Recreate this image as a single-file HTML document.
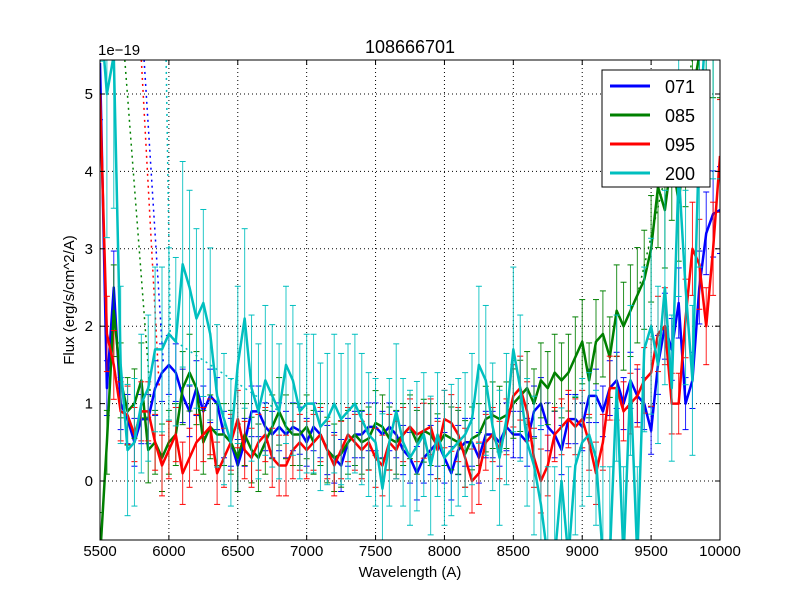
<!DOCTYPE html>
<html><head><meta charset="utf-8"><style>
html,body{margin:0;padding:0;background:#fff;width:800px;height:600px;overflow:hidden;}
svg{display:block;font-family:"Liberation Sans","DejaVu Sans",sans-serif;}
</style></head><body>
<svg id="chart" width="800" height="600">
<rect width="800" height="600" fill="#fff"/>
<text x="410" y="53" font-size="18" text-anchor="middle">108666701</text>
<text x="98" y="55" font-size="15">1e−19</text>
<text x="410" y="577" font-size="15" text-anchor="middle">Wavelength (A)</text>
<text transform="translate(74,300) rotate(-90)" font-size="15" text-anchor="middle">Flux (erg/s/cm^2/A)</text>
<defs><clipPath id="pc"><rect x="100" y="60" width="620" height="480"/></clipPath></defs>
<g id="grid"></g>
<g id="series" clip-path="url(#pc)"></g>
<g id="axes"></g>
<g id="legend">
<rect x="602" y="70" width="108" height="117" fill="#fff" stroke="#000" stroke-width="1"/>
</g>
</svg>
<script>
const waves=[];for(let w=5500;w<=10000;w+=50)waves.push(w);
const xTicks=[5500,6000,6500,7000,7500,8000,8500,9000,9500,10000];
const yTicks=[0,1,2,3,4,5];
const names=["071","085","095","200"];
const colors=["#0000ff","#008000","#ff0000","#00bfbf"];
const blue=[5.4,1.2,2.5,1.0,0.8,0.5,0.8,0.8,1.2,1.4,1.5,1.4,1.1,0.9,1.2,0.9,1.1,1.0,0.6,0.5,0.2,0.5,0.9,0.9,0.7,0.6,0.7,0.6,0.7,0.65,0.5,0.7,0.6,0.4,0.3,0.2,0.5,0.6,0.6,0.7,0.7,0.6,0.7,0.6,0.4,0.3,0.1,0.3,0.4,0.5,0.3,0.1,0.4,0.5,0.5,0.3,0.6,0.6,0.5,0.7,0.6,0.6,0.5,0.9,1.0,0.7,0.6,0.4,0.8,0.8,0.7,1.1,1.1,0.9,1.2,1.3,1.0,1.3,1.1,1.0,0.65,1.5,2.0,1.7,2.3,1.0,1.3,2.5,3.2,3.45,3.5];
const green=[-1,0.5,2.2,1.3,0.9,1.0,1.3,0.4,0.5,0.3,0.5,0.6,1.2,1.4,1.2,0.5,0.7,0.6,0.6,0.5,0.3,0.6,0.4,0.3,0.5,0.7,0.9,0.7,0.6,0.6,0.7,0.5,0.6,0.4,0.3,0.35,0.5,0.6,0.5,0.55,0.75,0.7,0.55,0.5,0.6,0.7,0.5,0.65,0.6,0.45,0.6,0.55,0.5,0.35,0.55,0.6,0.8,0.85,0.8,0.85,1.0,1.1,1.2,1.0,1.3,1.2,1.4,1.3,1.4,1.6,1.8,1.3,1.8,1.9,1.6,2.2,2.0,2.2,2.4,2.6,3.0,3.8,3.5,4.2,3.6,4.4,5.0,5.5,6,6,6];
const red=[5.0,1.9,1.5,0.9,0.85,0.6,0.9,0.9,0.5,0.2,0.4,0.6,0.1,0.3,0.5,0.6,0.7,0.1,0.3,0.5,0.8,0.4,0.3,0.5,0.6,0.3,0.2,0.2,0.4,0.5,0.4,0.5,0.6,0.4,0.2,0.4,0.6,0.5,0.4,0.5,0.3,0.2,0.5,0.4,0.6,0.7,0.6,0.65,0.7,0.4,0.8,0.75,0.6,0.3,0.0,0.1,0.5,0.6,0.4,0.7,1.1,1.2,0.9,0.3,0.0,0.2,0.6,0.7,0.8,0.7,0.8,0.5,0.1,0.5,1.2,1.2,0.9,1.0,1.1,1.3,1.4,1.9,2.0,1.0,1.0,2.1,3.0,2.8,2.0,3.0,4.2];
const cyan=[8,5,5.5,1.5,0.4,0.5,1.0,1.2,1.7,1.7,1.9,1.8,2.8,2.5,2.1,2.3,1.9,1.1,0.8,0.5,1.5,2.1,1.2,0.9,1.3,1.1,0.9,1.5,1.3,0.9,1.0,1.0,0.7,0.8,1.0,0.8,0.9,1.0,0.8,0.6,0.5,-0.1,0.5,0.9,0.5,0.3,0.45,0.6,0.2,0.6,0.3,0.4,0.5,0.6,0.8,1.5,1.3,0.7,0.3,0.8,1.7,1.2,0.5,0.2,-0.3,-1,-1,0.0,-1,0.2,0.5,0.6,0.3,-1,-1,1.2,-1,1.3,-1,1.7,2.0,1.5,2.5,1.2,4.0,2.5,1.3,4.5,6,6,6];
const errs=[0.3,0.4,0.35,0.8];
const allSeries=[blue,green,red,cyan];
const X=w=>100+(w-5500)*620/4500;
const Y=v=>Math.max(5,Math.min(595,481-v*77.4));
const NS="http://www.w3.org/2000/svg";
function mk(t,a,p){const e=document.createElementNS(NS,t);for(const k in a)e.setAttribute(k,a[k]);p.appendChild(e);return e;}
const grid=document.getElementById('grid'),axes=document.getElementById('axes'),ser=document.getElementById('series'),leg=document.getElementById('legend');
xTicks.forEach(t=>{
 const g=mk('line',{x1:X(t),x2:X(t),y1:60,y2:540,stroke:'#000','stroke-dasharray':'1,3','stroke-width':1},grid);
 
 
 mk('line',{x1:X(t),x2:X(t),y1:540,y2:535,stroke:'#000'},axes);
 mk('line',{x1:X(t),x2:X(t),y1:60,y2:65,stroke:'#000'},axes);
 const l=mk('text',{x:X(t),y:556,'font-size':15,'text-anchor':'middle'},axes);l.textContent=t;
 
 
});
yTicks.forEach(t=>{
 const g=mk('line',{x1:100,x2:720,y1:Y(t),y2:Y(t),stroke:'#000','stroke-dasharray':'1,3','stroke-width':1},grid);
 
 
 mk('line',{x1:100,x2:105,y1:Y(t),y2:Y(t),stroke:'#000'},axes);
 mk('line',{x1:715,x2:720,y1:Y(t),y2:Y(t),stroke:'#000'},axes);
 const l=mk('text',{x:93,y:Y(t)+5,'font-size':15,'text-anchor':'end'},axes);l.textContent=t;
 
 
});
mk('rect',{x:100,y:60,width:620,height:480,fill:'none',stroke:'#000'},axes);
const dots=[[1,5680,5.44,5870,1.0],[2,5800,5.44,5930,1.2],[0,5820,5.44,5960,1.5],[3,5980,5.44,6010,1.9],[3,6050,1.8,6800,0.9],[1,9400,2.4,9800,5.44]];
dots.forEach(d=>{const l=mk('line',{x1:X(d[1]),y1:Y(d[2]),x2:X(d[3]),y2:Y(d[4]),stroke:colors[d[0]],'stroke-dasharray':'2,4','stroke-width':1.5},ser);
 
 });
allSeries.forEach((s,i)=>{
 const g=mk('g',{},ser);
 
 
 s.forEach((v,j)=>{const x=X(waves[j]),e=errs[i]*(1+Math.abs(v-0.6)*0.3);
  mk('line',{x1:x,x2:x,y1:Y(v-e),y2:Y(v+e),stroke:colors[i],'stroke-width':1,opacity:0.85},g);
  mk('line',{x1:x-3,x2:x+3,y1:Y(v-e),y2:Y(v-e),stroke:colors[i],'stroke-width':1},g);
  mk('line',{x1:x-3,x2:x+3,y1:Y(v+e),y2:Y(v+e),stroke:colors[i],'stroke-width':1},g);});
 const p=mk('polyline',{points:s.map((v,j)=>X(waves[j])+','+Y(v)).join(' '),fill:'none',stroke:colors[i],'stroke-width':2.5,'stroke-linejoin':'round'},g);
 
 
});
names.forEach((n,i)=>{const y=86+i*29;
 mk('line',{x1:610,x2:650,y1:y,y2:y,stroke:colors[i],'stroke-width':3},leg);
 const t=mk('text',{x:665,y:y+7,'font-size':18},leg);t.textContent=n;
 
 });
</script>
</body></html>
